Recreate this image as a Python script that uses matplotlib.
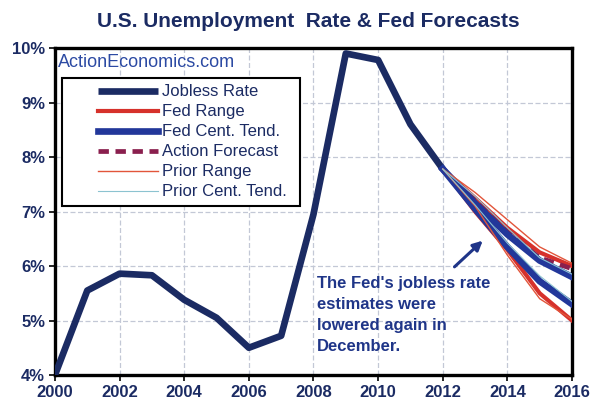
import matplotlib
matplotlib.use("Agg")
import matplotlib.pyplot as plt
from matplotlib.legend_handler import HandlerLine2D

# actual jobless rate (Q4 values)
years = [2000, 2001, 2002, 2003, 2004, 2005, 2006, 2007, 2008, 2009, 2010, 2011, 2012]
jobless = [4.0, 5.55, 5.86, 5.83, 5.38, 5.05, 4.5, 4.72, 6.95, 9.9, 9.78, 8.6, 7.78]

# December Fed projections
fc_years = [2012, 2013, 2014, 2015, 2016]
fed_range_hi = [7.78, 7.25, 6.7, 6.25, 6.0]
fed_range_lo = [7.78, 7.0, 6.3, 5.5, 5.0]
ct_hi = [7.78, 7.15, 6.58, 6.1, 5.8]
ct_lo = [7.78, 7.05, 6.35, 5.72, 5.3]
action_fc = [7.78, 7.2, 6.62, 6.15, 5.95]

# prior (September) projections
prior_range_hi = [7.78, 7.35, 6.85, 6.35, 6.05]
prior_range_lo = [7.78, 7.1, 6.2, 5.4, 5.02]
prior_ct_hi = [7.78, 7.28, 6.7, 6.15, 5.85]
prior_ct_lo = [7.78, 7.12, 6.42, 5.82, 5.35]

x_ticks = list(range(2000, 2017, 2))
y_ticks = [4, 5, 6, 7, 8, 9, 10]

NAVY = "#1b2b63"
BLUE = "#22379a"
RED = "#d6312b"
PURPLE = "#8a1f4e"
SANS = ["Liberation Sans", "DejaVu Sans"]


class PadHandler(HandlerLine2D):
    # leave blank room left of the legend line, like the original
    def create_artists(self, legend, orig_handle, xdescent, ydescent,
                       width, height, fontsize, trans):
        pad = 0.33 * width
        return super().create_artists(legend, orig_handle, xdescent - pad,
                                      ydescent, width - pad, height,
                                      fontsize, trans)


fig = plt.figure(figsize=(5.93, 4.09), dpi=100)
ax = fig.add_axes([0.0927, 0.0831, 0.8719, 0.7995])

ax.plot(years, jobless, color=NAVY, lw=4.8, solid_capstyle="butt",
        label="Jobless Rate", zorder=3)
ax.plot(fc_years, fed_range_hi, color=RED, lw=3.0, label="Fed Range", zorder=3)
ax.plot(fc_years, fed_range_lo, color=RED, lw=3.0, zorder=3)
ax.plot(fc_years, action_fc, color=PURPLE, lw=3.4, ls=(0, (2.2, 1.4)),
        label="Action Forecast_", zorder=3.5)
ax.plot(fc_years, ct_hi, color=BLUE, lw=4.8, label="Fed Cent. Tend.", zorder=4)
ax.plot(fc_years, ct_lo, color=BLUE, lw=4.8, zorder=4)
ax.plot(fc_years, prior_range_hi, color="#e2553a", lw=1.0, label="Prior Range", zorder=5)
ax.plot(fc_years, prior_range_lo, color="#e2553a", lw=1.0, zorder=5)
ax.plot(fc_years, prior_ct_hi, color="#8cc3d0", lw=0.8, label="Prior Cent. Tend.", zorder=5)
ax.plot(fc_years, prior_ct_lo, color="#8cc3d0", lw=0.8, zorder=5)

ax.set_xlim(2000, 2016)
ax.set_ylim(4, 10)
ax.set_xticks(x_ticks)
ax.set_yticks(y_ticks)
ax.set_yticklabels([f"{v}%" for v in y_ticks])
ax.grid(True, color="#c3c8d6", lw=0.9, ls=(0, (4, 2)))
ax.set_axisbelow(True)

for s in ax.spines.values():
    s.set_linewidth(2.4)
    s.set_color("black")
ax.tick_params(length=4, width=1.2, color="black", pad=3)
for lab in ax.get_xticklabels() + ax.get_yticklabels():
    lab.set_family(SANS)
    lab.set_fontsize(12)
    lab.set_fontweight("bold")
    lab.set_color(NAVY)

# legend in the original order
h, l = ax.get_legend_handles_labels()
order = ["Jobless Rate", "Fed Range", "Fed Cent. Tend.", "Action Forecast_",
         "Prior Range", "Prior Cent. Tend."]
hs = [h[l.index(k)] for k in order]
ls_ = [k.rstrip("_") for k in order]
leg = ax.legend(hs, ls_, loc="upper left", bbox_to_anchor=(0.0135, 0.0, 0.46, 0.908),
                mode="expand", fancybox=False, framealpha=1, edgecolor="black",
                borderaxespad=0, handlelength=5.4, handletextpad=0.2,
                labelspacing=0.3, borderpad=0.38,
                prop={"family": SANS, "size": 12},
                handler_map={plt.Line2D: PadHandler()})
leg.get_frame().set_linewidth(1.5)
leg.set_zorder(6)
for t in leg.get_texts():
    t.set_color(NAVY)

ax.text(0.006, 0.955, "ActionEconomics.com", transform=ax.transAxes,
        fontsize=13, family=SANS, color="#2c4aa3", va="center", ha="left",
        zorder=7)

ax.text(2008.1, 5.82,
        "The Fed's jobless rate\nestimates were\nlowered again in\nDecember.",
        fontsize=12, family=SANS, fontweight="bold", color="#1f3588",
        va="top", ha="left", linespacing=1.5, zorder=7)
ax.annotate("", xy=(2013.3, 6.5), xytext=(2012.3, 5.95),
            arrowprops=dict(arrowstyle="-|>", color="#1f3588", lw=2.2,
                            mutation_scale=14), zorder=7)

fig.text(0.52, 0.948, "U.S. Unemployment  Rate & Fed Forecasts",
         ha="center", va="center", fontsize=15, family=SANS,
         fontweight="bold", color=NAVY)

fig.savefig("out.png", dpi=100)
